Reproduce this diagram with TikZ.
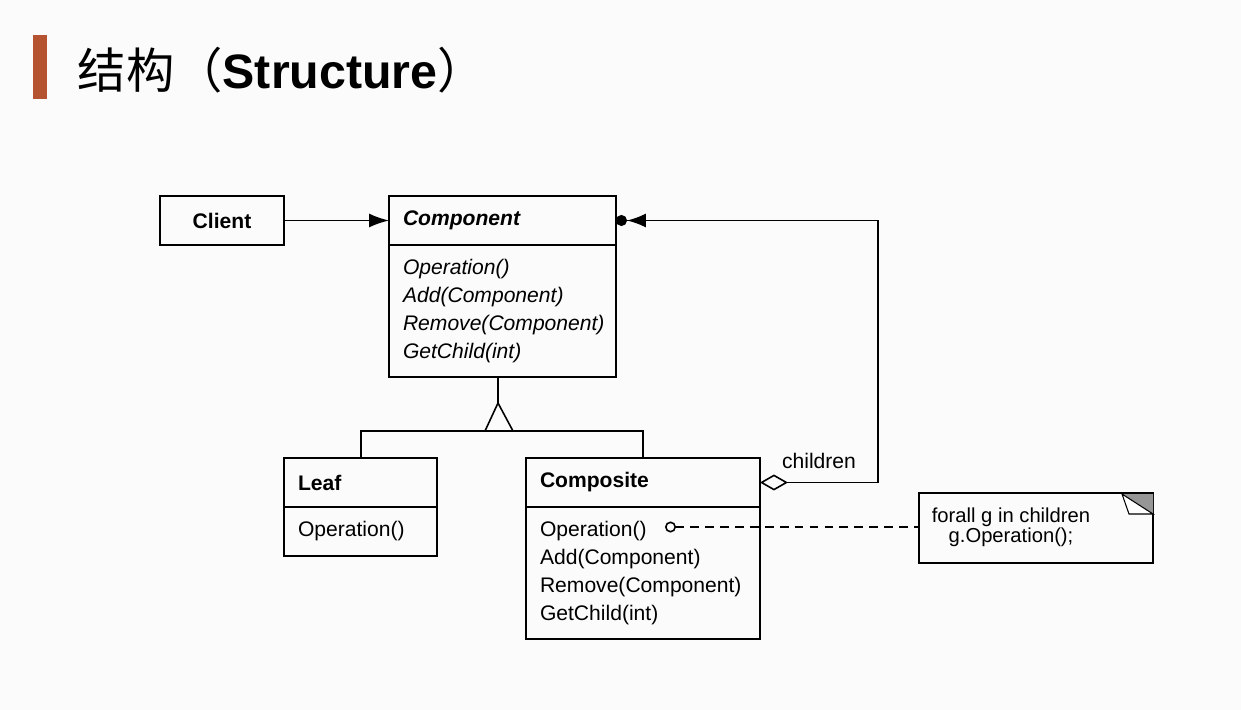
\documentclass[tikz,border=0pt]{standalone}
\usepackage{fontspec}
\setmainfont{Liberation Sans}
\newfontfamily\cjk{Noto Sans CJK SC}
\usepackage{tikz}
\usetikzlibrary{positioning,arrows.meta}
\definecolor{barred}{RGB}{181,82,48}
\definecolor{pagebg}{RGB}{251,251,251}
\definecolor{foldgray}{RGB}{150,150,150}

\begin{document}
\begin{tikzpicture}[x=0.02cm, y=-0.02cm, line width=0.9pt,
  umlfont/.style={font=\fontsize{12}{15.9}\selectfont},
  classhead/.style={rectangle, draw, outer sep=0pt, inner xsep=0.28cm, inner ysep=0pt,
  minimum height=0.98cm, align=left, text width=#1, anchor=north west,
  font=\fontsize{12}{15.9}\selectfont\bfseries},
  classbody/.style={rectangle, draw, outer sep=0pt, inner xsep=0.28cm, inner ysep=0pt,
  align=left, text width=#1, umlfont},
  notebox/.style={rectangle, draw, outer sep=0pt, minimum width=4.68cm, minimum height=1.4cm,
  anchor=north west}]
  % page and title
  \fill[pagebg] (0,0) rectangle (1241,710);
  \fill[barred] (33,35) rectangle (47,99);
  \node[anchor=base west, inner sep=0pt, font=\fontsize{27.5}{30}\selectfont] (title) at (77,88)
    {{\cjk 结构（}\textbf{Structure}{\cjk ）}};

  % classes
  \node[rectangle, draw, outer sep=0pt, minimum width=2.48cm, minimum height=0.98cm,
    anchor=north west, font=\fontsize{12}{15.9}\selectfont\bfseries] (client) at (160,196) {Client};
  \node[classhead=3.98cm] (componenthead) at (389,196) {\itshape Component};
  \node[classbody=3.98cm, minimum height=2.64cm, below=0pt of componenthead] (componentbody)
    {\itshape Operation()\\Add(Component)\\Remove(Component)\\GetChild(int)};
  \node[classhead=2.5cm] (leafhead) at (284,458) {Leaf};
  \node[classbody=2.5cm, minimum height=0.98cm, below=0pt of leafhead] (leafbody) {Operation()};
  \node[classhead=4.12cm] (compositehead) at (526,458) {Composite};
  \node[classbody=4.12cm, minimum height=2.64cm, below=0pt of compositehead] (compositebody)
    {Operation()\\Add(Component)\\Remove(Component)\\GetChild(int)};

  % note with folded corner
  \node[notebox] (note) at (919,493) {};
  \node[align=center, font=\fontsize{11.5}{11.5}\selectfont] (notetext) at (1011,527)
    {forall g in children\\g.Operation();};
  \fill[foldgray] (1122,494) -- (1153,494) -- (1153,514) -- cycle;
  \filldraw[fill=white, line width=0.6pt] (1122,494) -- (1153,514) -- (1129,514) -- cycle;

  % inheritance
  \coordinate (tri) at (498,403);
  \draw (tri |- componentbody.south) -- (tri);
  \draw (tri) -- (485,431) -- (513,431) -- cycle;
  \draw (leafhead.north -| 361,0) -- (361,431) -- (643,431) -- (compositehead.north -| 643,0);

  % associations
  \draw[-{Latex[length=0.4cm,width=0.28cm]}] (client) -- (componenthead);
  \coordinate (bend) at (componenthead.east -| 878,0);
  \draw[{Diamond[open,length=0.56cm,width=0.32cm]}-{Latex[length=0.38cm,width=0.28cm] Circle[length=0.22cm]}]
    (compositehead.east) -| node[pos=0.25, above=4pt, umlfont] (childlabel) {children} (bend)
    -- (componenthead.east);
  \coordinate (opdot) at (665,527);
  \draw[{Circle[open,length=0.22cm]}-, dash pattern=on 5pt off 3.5pt] (opdot) -- (opdot -| note.west);
\end{tikzpicture}
\end{document}
